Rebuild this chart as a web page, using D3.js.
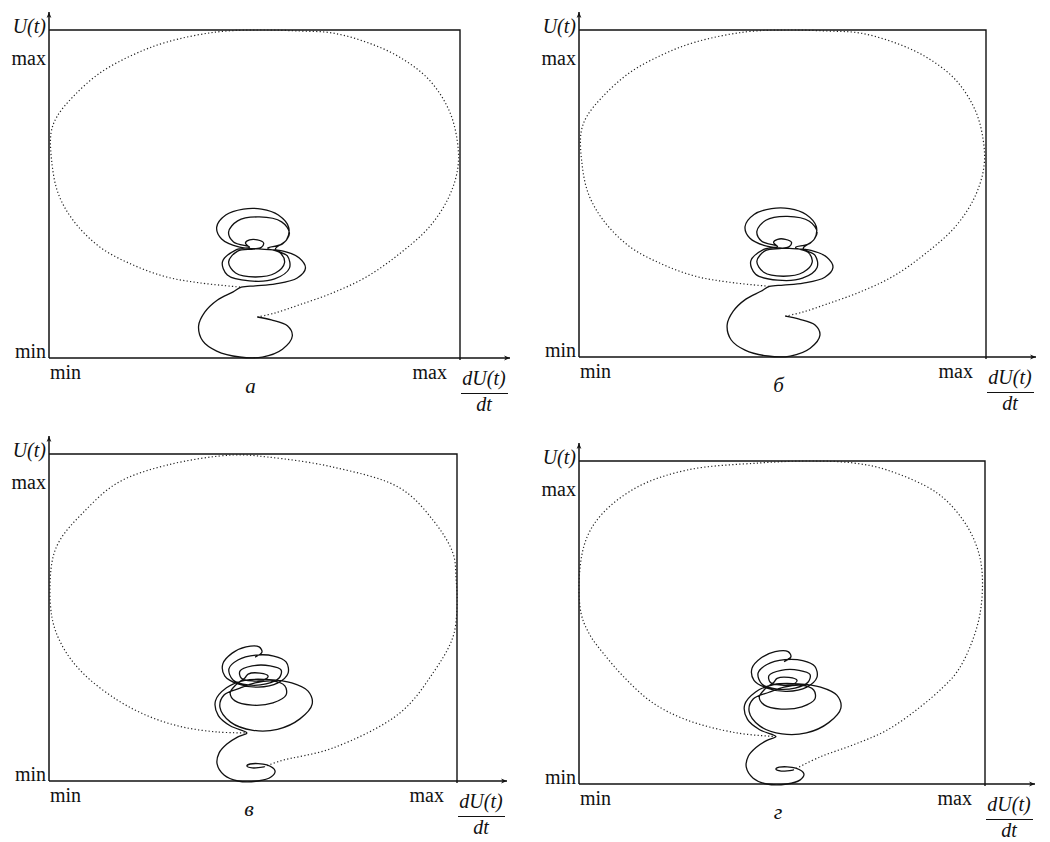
<!DOCTYPE html>
<html>
<head>
<meta charset="utf-8">
<script src="https://cdn.jsdelivr.net/npm/d3@7"></script>
<style>
  body { margin: 0; background: #fff; }
  svg { display: block; }
</style>
</head>
<body>
<div id="chart"></div>
<script>
var width = 1050;
var height = 842;

// phase coordinates, both axes 0 = min .. 100 = max : [dU/dt, U]
// panels a and б: spiral, S-curve and hook (solid line)
var spiralA = [
  [48.8,33.8],[47.8,35.1],[48.8,36.0],[50.7,36.0],[52.2,35.1],[51.7,33.8],[49.8,33.2],
  [45.9,32.6],[43.7,29.3],[45.4,25.9],[50.2,24.7],[55.1,25.9],[57.3,29.0],[56.3,32.0],[53.2,33.5],
  [56.8,34.8],[58.5,38.1],[56.6,41.5],[51.2,43.0],[45.9,41.8],[43.7,38.4],[44.9,35.4],[48.8,33.8],
  [45.4,32.9],[42.2,29.3],[43.4,25.3],[48.8,23.5],[54.9,24.1],[58.5,27.4],[58.0,31.1],[55.1,33.2],
  [57.8,36.0],[58.3,39.9],[55.8,43.6],[51.7,45.4],[47.3,45.4],[43.0,43.6],
  [40.8,39.9],[42.0,36.3],[46.4,33.8],[51.7,33.2],
  [57.0,32.6],[60.9,30.5],[62.4,27.4],[60.4,24.4],[55.1,22.6],[50.2,22.0],[46.8,21.6],
  [44.7,20.1],[41.0,17.7],[37.9,14.0],[36.4,9.8],[37.4,5.2],[40.8,2.1],[46.4,0.3],[51.9,0.3],
  [56.8,2.7],[59.2,6.7],[58.0,9.8],[54.1,11.6],[50.7,12.5]
];
// panels a and б: large cycle (dotted line), from the hook back to the cusp
var cycleA = [
  [50.7,12.5],[54.9,13.7],[60.9,16.2],[68.9,19.8],[77.2,24.7],[85.2,31.7],[92.5,39.9],[97.3,49.1],
  [99.5,58.2],[99.3,66.5],[97.3,75.6],[92.5,84.8],[85.2,91.8],[77.2,96.3],[68.9,99.1],[60.9,99.7],
  [51.2,100],[40.8,99.4],[28.6,96.3],[20.4,92.4],[12.4,86.9],[5.8,79.6],[1.9,73.5],[0.5,68.6],
  [0.7,59.5],[2.2,50.3],[5.8,42.1],[12.4,33.8],[20.4,28.4],[28.6,24.7],[36.7,22.9],[46.8,21.6]
];
// panels в and г: spiral with a curl on top
var spiralV = [
  [50.5,37.9],[52.2,39.4],[51.5,41.0],[48.3,41.0],[44.9,39.1],[42.6,35.8],[43.1,32.1],[46.3,29.7],
  [51.2,28.7],[56.1,30.0],[58.6,33.0],[58.1,36.4],[55.1,38.2],[50.7,38.5],[46.3,37.0],[44.1,34.3],
  [45.1,30.9],[48.8,29.4],[53.2,29.7],[56.4,31.5],[56.9,33.9],[54.2,35.2],[49.8,35.2],[46.8,33.6],
  [47.1,31.5],[49.8,30.6],[52.7,30.9],[53.7,32.1],[51.7,33.0],[48.8,32.7],[48.0,31.5],
  [45.8,29.4],[44.4,26.9],[45.6,24.5],[49.8,23.2],[54.9,23.9],[58.1,26.3],[57.8,29.1],[54.7,30.6],[50.5,30.0],
  [46.8,28.4],[42.9,26.3],[41.9,22.5],[44.5,18.0],[50.0,15.5],[56.0,15.8],[61.5,19.0],[64.5,23.5],
  [63.5,27.5],[59.5,30.0],[54.0,31.0],
  [48.0,30.8],[43.5,28.5],[40.8,24.5],[41.5,20.0],[44.5,16.8],[48.5,14.7],
  [46.3,13.5],[43.6,11.3],[41.7,8.6],[41.2,5.2],[42.9,1.8],[46.3,0],[51.2,0],[54.4,1.2],
  [55.4,3.1],[53.4,4.9],[49.3,5.2],[48.5,4.6],[49.8,4.0],[52.7,4.3]
];
var cycleV = [
  [52.7,4.3],[56.6,6.1],[69.6,10.1],[86.0,20.8],[94.1,33.0],[99.0,44.0],[100,53.2],[99.8,61.5],
  [99.0,69.7],[94.1,79.8],[86.0,89.6],[69.6,96.0],[53.4,99.1],[45.1,99.7],[28.9,96.6],[16.7,91.1],
  [8.3,82.0],[2.7,73.7],[0.7,66.7],[0.7,50.2],[3.4,41.0],[8.3,33.0],[16.7,24.8],[24.8,19.6],
  [32.8,16.5],[41.2,15.0],[48.5,14.7]
];
var cycleG = [
  [52.7,4.3],[59.4,8.4],[67.5,12.1],[75.9,16.7],[84.0,23.8],[89.7,30.0],[93.1,34.7],[96.3,42.4],
  [98.8,52.9],[99.3,65.3],[98.0,73.4],[94.6,81.7],[88.2,90.1],[75.9,97.2],[67.5,99.4],[56.9,100],
  [44.6,99.4],[26.6,97.2],[14.3,91.9],[5.9,83.9],[2.0,76.5],[0.2,66.3],[0.5,52.9],[2.7,46.1],
  [5.9,40.6],[11.3,32.8],[18.2,25.1],[26.6,19.8],[38.9,15.8],[48.5,14.7]
];
var panelNames = ["а", "б", "в", "г"];
var tickNames = ["min", "max"];

var serif = "'Liberation Serif', 'DejaVu Serif', serif";

var panels = [
  { name: panelNames[0], solid: spiralA, dotted: cycleA, left: 49,  right: 460, top: 30,  bottom: 358, size: 21 },
  { name: panelNames[1], solid: spiralA, dotted: cycleA, left: 579, right: 986, top: 30,  bottom: 357, size: 21 },
  { name: panelNames[2], solid: spiralV, dotted: cycleV, left: 49,  right: 457, top: 454, bottom: 781, size: 22 },
  { name: panelNames[3], solid: spiralV, dotted: cycleG, left: 579, right: 985, top: 461, bottom: 784, size: 22 }
];

var svg = d3.select("#chart")
    .append("svg")
    .attr("width", width)
    .attr("height", height)
    .attr("font-family", serif);

svg.append("defs").append("marker")
    .attr("id", "arrow")
    .attr("viewBox", "0 0 10 10")
    .attr("refX", 10).attr("refY", 5)
    .attr("markerWidth", 9).attr("markerHeight", 6)
    .attr("markerUnits", "userSpaceOnUse")
    .attr("orient", "auto")
    .append("path")
    .attr("d", "M0,1L10,5L0,9L3,5Z")
    .attr("fill", "#111");

function label(g, px, py, txt, anchor, size, italic) {
    g.append("text")
        .attr("x", px).attr("y", py)
        .attr("text-anchor", anchor)
        .attr("font-family", serif)
        .attr("font-size", size)
        .attr("font-style", italic ? "italic" : "normal")
        .attr("fill", "#111")
        .text(txt);
}

panels.forEach(function(p) {
    var x = d3.scaleLinear().domain([0, 100]).range([p.left, p.right]);
    var y = d3.scaleLinear().domain([0, 100]).range([p.bottom, p.top]);
    var g = svg.append("g");

    var line = d3.line()
        .x(function(d) { return x(d[0]); })
        .y(function(d) { return y(d[1]); })
        .curve(d3.curveCatmullRom.alpha(0.5));

    // frame: top and right edge
    g.append("path")
        .attr("d", "M" + x(0) + "," + y(100) + "H" + x(100) + "V" + (y(0) + 2))
        .attr("fill", "none")
        .attr("stroke", "#111")
        .attr("stroke-width", 1.4);

    // axes with arrows
    g.append("line")
        .attr("x1", x(0)).attr("y1", y(0))
        .attr("x2", x(0)).attr("y2", y(100) - 18)
        .attr("stroke", "#111").attr("stroke-width", 1.5)
        .attr("marker-end", "url(#arrow)");
    g.append("line")
        .attr("x1", x(0)).attr("y1", y(0))
        .attr("x2", x(100) + 50).attr("y2", y(0))
        .attr("stroke", "#111").attr("stroke-width", 1.5)
        .attr("marker-end", "url(#arrow)");

    // large cycle, dotted
    g.append("path")
        .attr("d", line(p.dotted))
        .attr("fill", "none")
        .attr("stroke", "#222")
        .attr("stroke-width", 1.2)
        .attr("stroke-dasharray", "1.2 2.3");

    // spiral and S-curve, solid
    g.append("path")
        .attr("d", line(p.solid))
        .attr("fill", "none")
        .attr("stroke", "#111")
        .attr("stroke-width", 1.3)
        .attr("stroke-linejoin", "round");

    // y labels
    label(g, x(0) - 3, y(100) + 3, "U(t)", "end", 20, true);
    label(g, x(0) - 3, y(100) + 35, tickNames[1], "end", 20, false);
    label(g, x(0) - 3, y(0), tickNames[0], "end", 20, false);

    // x labels
    label(g, x(0) + 1, y(0) + 21, tickNames[0], "start", 20, false);
    label(g, x(100) - 13, y(0) + 21, tickNames[1], "end", 20, false);

    // dU(t)/dt fraction
    var fx = x(100) + 24;
    label(g, fx, y(0) + 27, "dU(t)", "middle", 20, true);
    g.append("line")
        .attr("x1", fx - 23).attr("x2", fx + 24)
        .attr("y1", y(0) + 35.5).attr("y2", y(0) + 35.5)
        .attr("stroke", "#111").attr("stroke-width", 1.2);
    label(g, fx, y(0) + 53, "dt", "middle", 20, true);

    // panel letter
    label(g, x(50) - 4, y(0) + 35, p.name, "middle", p.size, true);
});
</script>
</body>
</html>
